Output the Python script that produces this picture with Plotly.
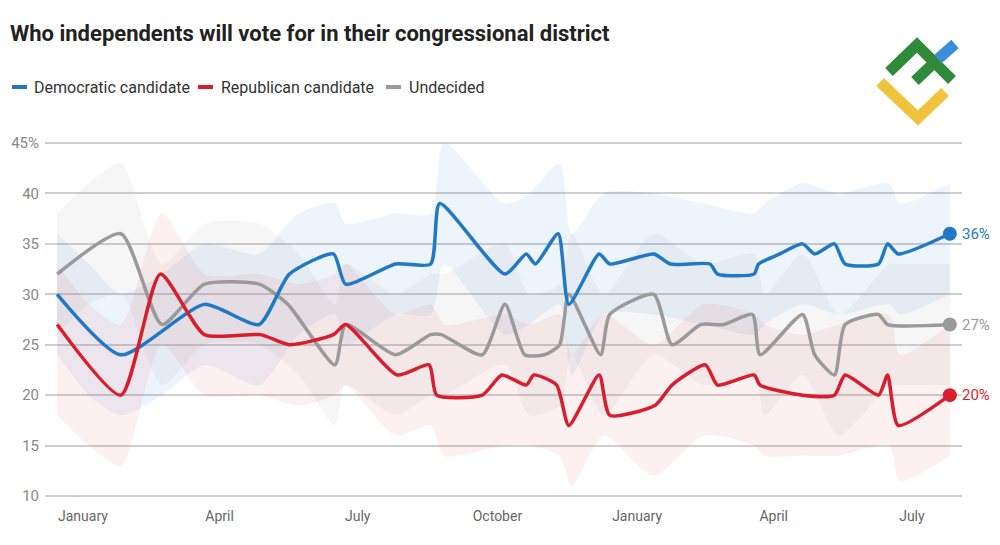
import plotly.graph_objects as go

# ---------------- data ----------------
dem_dates = ["2020-12-30", "2021-02-10", "2021-04-06", "2021-05-12", "2021-06-01", "2021-06-30",
             "2021-07-08", "2021-08-10", "2021-09-02", "2021-09-08", "2021-10-21", "2021-11-04",
             "2021-11-10", "2021-11-25", "2021-12-02", "2021-12-22", "2021-12-29", "2022-01-27",
             "2022-02-07", "2022-03-05", "2022-03-10", "2022-04-03", "2022-04-06", "2022-04-20",
             "2022-05-05", "2022-05-13", "2022-05-26", "2022-06-02", "2022-06-24", "2022-06-30",
             "2022-07-07", "2022-08-10"]
dem_vals = [30, 24, 29, 27, 32, 34,
            31, 33, 33, 39, 32, 34,
            33, 36, 29, 34, 33, 34,
            33, 33, 32, 32, 33, 34,
            35, 34, 35, 33, 33, 35,
            34, 36]

rep_dates = ["2020-12-30", "2021-02-10", "2021-03-08", "2021-04-06", "2021-05-13", "2021-06-01",
             "2021-06-30", "2021-07-08", "2021-08-11", "2021-09-01", "2021-09-06", "2021-10-06",
             "2021-10-19", "2021-11-04", "2021-11-09", "2021-11-24", "2021-12-02", "2021-12-22",
             "2021-12-29", "2022-01-28", "2022-02-08", "2022-03-02", "2022-03-10", "2022-04-03",
             "2022-04-07", "2022-05-05", "2022-05-26", "2022-06-02", "2022-06-24", "2022-06-30",
             "2022-07-07", "2022-08-10"]
rep_vals = [27, 20, 32, 26, 26, 25,
            26, 27, 22, 23, 20, 20,
            22, 21, 22, 21, 17, 22,
            18, 19, 21, 23, 21, 22,
            21, 20, 20, 22, 20, 22,
            17, 20]

und_dates = ["2020-12-30", "2021-02-10", "2021-03-09", "2021-04-06", "2021-05-12", "2021-05-31",
             "2021-07-01", "2021-07-08", "2021-08-10", "2021-09-02", "2021-09-09", "2021-10-06",
             "2021-10-21", "2021-11-03", "2021-11-16", "2021-11-26", "2021-12-02", "2021-12-23",
             "2021-12-29", "2022-01-27", "2022-02-08", "2022-02-27", "2022-03-14", "2022-04-02",
             "2022-04-07", "2022-05-05", "2022-05-13", "2022-05-26", "2022-06-02", "2022-06-24",
             "2022-06-30", "2022-08-10"]
und_vals = [32, 36, 27, 31, 31, 29,
            23, 27, 24, 26, 26, 24,
            29, 24, 24, 25, 30, 24,
            28, 30, 25, 27, 27, 28,
            24, 28, 24, 22, 27, 28,
            27, 27]

# uncertainty bands
band_dates = ["2020-12-30", "2021-01-20", "2021-02-10", "2021-03-09", "2021-04-06", "2021-05-12",
              "2021-06-07", "2021-07-01", "2021-07-08", "2021-08-10", "2021-09-02", "2021-09-11",
              "2021-10-21", "2021-11-06", "2021-11-26", "2021-12-04", "2021-12-25", "2022-01-27",
              "2022-03-01", "2022-04-03", "2022-04-10", "2022-05-05", "2022-05-29", "2022-07-01",
              "2022-07-08", "2022-08-10"]
dem_hi = [36, 33, 30, 32, 35, 34, 38, 39, 37, 38, 38, 45, 39, 40, 43, 36, 40, 40, 39, 38, 39, 41, 40, 41, 39, 41]
dem_lo = [24, 20, 18, 20, 23, 21, 26, 28, 25, 28, 28, 33, 26, 27, 29, 22, 28, 28, 27, 26, 27, 29, 28, 29, 28, 30]
rep_hi = [33, 29, 27, 38, 32, 32, 31, 32, 33, 28, 29, 27, 28, 27, 28, 24, 28, 25, 29, 28, 27, 26, 27, 28, 24, 27]
rep_lo = [18, 15, 13, 25, 20, 20, 19, 20, 21, 16, 17, 14, 15, 15, 14, 11, 16, 12, 16, 15, 14, 14, 14, 15, 11.5, 14]
und_hi = [38, 41, 43, 33, 37, 37, 34, 29, 33, 30, 32, 32, 35, 30, 31, 36, 30, 36, 33, 34, 30, 34, 28, 33, 33, 33]
und_lo = [26, 29, 30, 21, 25, 25, 22, 17, 21, 18, 20, 20, 23, 18, 19, 24, 18, 24, 21, 22, 18, 22, 16, 21, 21, 21]

y_ticks = [10, 15, 20, 25, 30, 35, 40, 45]
y_ticktext = ["10", "15", "20", "25", "30", "35", "40", "45%"]
x_ticks = ["2021-01-16", "2021-04-16", "2021-07-16", "2021-10-16", "2022-01-16", "2022-04-16", "2022-07-16"]
x_ticktext = ["January", "April", "July", "October", "January", "April", "July"]

series = [
    ("Undecided", und_dates, und_vals, und_hi, und_lo, "#9a9a9a", "rgba(150,150,150,0.09)"),
    ("Democratic candidate", dem_dates, dem_vals, dem_hi, dem_lo, "#2179c5", "rgba(40,120,200,0.08)"),
    ("Republican candidate", rep_dates, rep_vals, rep_hi, rep_lo, "#d81e2c", "rgba(225,40,50,0.07)"),
]

# ---------------- layout helpers ----------------
W, H = 1000, 545
L, R, T, B = 45, 38, 141, 47
def px_x(px):
    return (px - L) / (W - L - R)
def px_y(py):
    return (H - B - py) / (H - T - B)

fig = go.Figure()

# bands
for name, d, v, hi, lo, col, fillc in series:
    fig.add_trace(go.Scatter(x=band_dates, y=lo, mode="lines",
                             line=dict(width=0, shape="spline", smoothing=0.7),
                             hoverinfo="skip", showlegend=False))
    fig.add_trace(go.Scatter(x=band_dates, y=hi, mode="lines",
                             line=dict(width=0, shape="spline", smoothing=0.7),
                             fill="tonexty", fillcolor=fillc,
                             hoverinfo="skip", showlegend=False))

# lines
for name, d, v, hi, lo, col, fillc in series:
    fig.add_trace(go.Scatter(x=d, y=v, mode="lines", name=name,
                             line=dict(color=col, width=3.5, shape="spline", smoothing=0.6),
                             showlegend=False))
    fig.add_trace(go.Scatter(x=[d[-1]], y=[v[-1]], mode="markers",
                             marker=dict(color=col, size=14),
                             showlegend=False, hoverinfo="skip"))
    fig.add_annotation(x=d[-1], y=v[-1], text=f"{v[-1]}%", showarrow=False,
                       xanchor="left", yanchor="middle", xshift=10,
                       font=dict(family="Roboto", size=15, color=col))

# legend (manual)
legend_items = [("Democratic candidate", "#2179c5", 12, 32),
                ("Republican candidate", "#d81e2c", 198, 219),
                ("Undecided", "#9a9a9a", 386, 407)]
for text, col, lx, tx in legend_items:
    fig.add_shape(type="line", xref="paper", yref="paper",
                  x0=px_x(lx), x1=px_x(lx + 15), y0=px_y(87), y1=px_y(87),
                  line=dict(color=col, width=4))
    fig.add_annotation(xref="paper", yref="paper", x=px_x(tx), y=px_y(87),
                       text=text, showarrow=False, xanchor="left", yanchor="middle",
                       font=dict(family="Roboto", size=16, color="#333333"))

# logo
logo = [
    ("#f0c33c", [(880, 82), (918, 118), (945, 92)]),
    ("#2f8a3a", [(889, 72), (917, 45), (952, 80)]),
    ("#2f8a3a", [(915, 81), (936, 61)]),
    ("#3b8ddc", [(938, 59), (955, 44)]),
]
for col, pts in logo:
    path = "M " + " L ".join(f"{px_x(a):.4f},{px_y(b):.4f}" for a, b in pts)
    fig.add_shape(type="path", xref="paper", yref="paper", path=path,
                  line=dict(color=col, width=11))

fig.update_layout(
    width=W, height=H,
    margin=dict(l=L, r=R, t=T, b=B),
    paper_bgcolor="white", plot_bgcolor="white",
    title=dict(text="<b>Who independents will vote for in their congressional district</b>",
               x=10 / W, xanchor="left", xref="container", y=1 - 33 / H, yanchor="middle",
               font=dict(family="Roboto", size=22, color="#222222")),
    xaxis=dict(type="date", range=["2020-12-22", "2022-08-18"],
               tickvals=x_ticks, ticktext=x_ticktext, showgrid=False, zeroline=False,
               showline=False, ticks="", ticklabelstandoff=8,
               tickfont=dict(family="Roboto", size=14, color="#666666")),
    yaxis=dict(range=[9.8, 45.2], tickvals=y_ticks, ticktext=y_ticktext,
               showgrid=True, gridcolor="#cfcfcf", gridwidth=1.5, zeroline=False,
               showline=False, ticks="", ticklabelstandoff=5,
               tickfont=dict(family="Roboto", size=15, color="#888888")),
)

fig.write_html("out.html")
